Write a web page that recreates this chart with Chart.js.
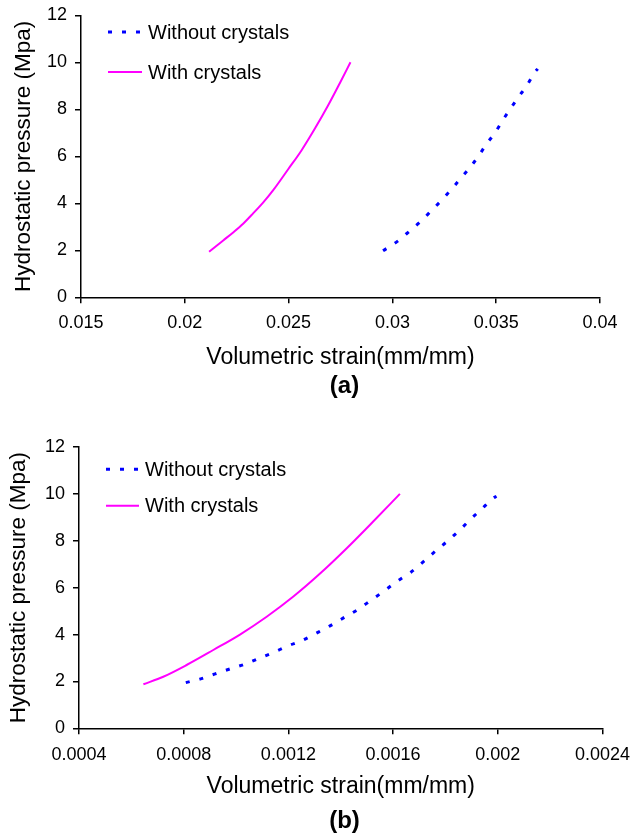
<!DOCTYPE html>
<html>
<head>
<meta charset="utf-8">
<script src="https://cdn.jsdelivr.net/npm/chart.js@4/dist/chart.umd.min.js"></script>
<style>
  html, body { margin: 0; padding: 0; background: #fff; }
  body { width: 630px; height: 839px; position: relative; overflow: hidden;
         font-family: "Liberation Sans", Arial, sans-serif; }
  .panel { position: absolute; left: 0; width: 630px; }
  .caption { position: absolute; left: 300px; width: 89px; text-align: center;
             font-weight: bold; font-size: 24px; line-height: 28px; color: #000; }
</style>
</head>
<body>
<div class="panel" style="top:0;height:400px"><canvas id="chartA" width="630" height="400"></canvas></div>
<div class="caption" style="top:371px">(a)</div>
<div class="panel" style="top:420px;height:419px"><canvas id="chartB" width="630" height="419"></canvas></div>
<div class="caption" style="top:806px">(b)</div>

<script>
// Panel (a): volumetric strain vs. hydrostatic pressure
const aStrainWithout   = [0.02955, 0.03024, 0.03083, 0.03135, 0.03188, 0.03241, 0.03289, 0.03329, 0.03377,
                          0.03420, 0.03452, 0.03496, 0.03532, 0.03564, 0.03609, 0.03649, 0.03688, 0.03700];
const aPressureWithout = [1.98, 2.38, 2.82, 3.22, 3.69, 4.17, 4.64, 5.06, 5.56,
                          6.08, 6.51, 7.02, 7.54, 7.97, 8.54, 9.03, 9.60, 9.72];
const aStrainWith      = [0.02117, 0.02185, 0.02233, 0.02281, 0.02329, 0.02377, 0.02425,
                          0.02498, 0.02562, 0.02626, 0.02690, 0.02746, 0.02798];
const aPressureWith    = [1.94, 2.42, 2.76, 3.13, 3.57, 4.03, 4.55,
                          5.45, 6.25, 7.17, 8.16, 9.10, 10.0];
const aStrainTicks     = [0.015, 0.02, 0.025, 0.03, 0.035, 0.04];

// Panel (b)
const bStrainWithout   = [0.000808, 0.000862, 0.000920, 0.000973, 0.001032, 0.001089, 0.001142, 0.001197,
                          0.001251, 0.001305, 0.001359, 0.001412, 0.001463, 0.001514, 0.001566, 0.001614,
                          0.001668, 0.001716, 0.001760, 0.001805, 0.001852, 0.001896, 0.001938, 0.001983, 0.001995];
const bPressureWithout = [1.95, 2.10, 2.32, 2.52, 2.73, 2.99, 3.23, 3.51,
                          3.74, 4.05, 4.37, 4.72, 5.05, 5.45, 5.86, 6.26,
                          6.66, 7.11, 7.54, 7.96, 8.43, 8.92, 9.35, 9.82, 9.90];
const bStrainWith      = [0.000646, 0.000722, 0.000811, 0.000913, 0.001015, 0.001117, 0.001219, 0.001321,
                          0.001423, 0.001524, 0.001626];
const bPressureWith    = [1.88, 2.20, 2.70, 3.34, 4.00, 4.76, 5.62, 6.60, 7.68, 8.82, 10.0];
const bStrainTicks     = [0.0004, 0.0008, 0.0012, 0.0016, 0.002, 0.0024];

const pressureTicks    = [0, 2, 4, 6, 8, 10, 12];
const seriesNames      = ['Without crystals', 'With crystals'];
const xAxisTitle       = 'Volumetric strain(mm/mm)';
const yAxisTitle       = 'Hydrostatic pressure (Mpa)';

const FONT = '"Liberation Sans", Arial, Helvetica, sans-serif';

function points(xs, ys) {
  return xs.map((x, i) => ({ x: x, y: ys[i] }));
}

// Legend drawn inside the plot area, line sample followed by the series name
const insideLegend = {
  id: 'insideLegend',
  afterDatasetsDraw(chart, args, opts) {
    const ctx = chart.ctx;
    ctx.save();
    ctx.font = '20px ' + FONT;
    ctx.textBaseline = 'middle';
    ctx.textAlign = 'left';
    chart.data.datasets.forEach((ds, i) => {
      const y = opts.top + i * opts.gap;
      ctx.strokeStyle = ds.borderColor;
      ctx.lineWidth = ds.borderWidth;
      ctx.setLineDash(ds.borderDash || []);
      ctx.beginPath();
      ctx.moveTo(opts.x, y);
      ctx.lineTo(opts.x + opts.sample, y);
      ctx.stroke();
      ctx.setLineDash([]);
      ctx.fillStyle = '#000';
      ctx.fillText(ds.label, opts.x + opts.sample + opts.textGap, y + 1);
    });
    ctx.restore();
  }
};

function makeChart(id, cfg) {
  return new Chart(document.getElementById(id), {
    type: 'line',
    data: {
      datasets: [
        { label: seriesNames[0], data: points(cfg.withoutX, cfg.withoutY),
          borderColor: '#0000ff', borderWidth: 3, borderDash: [4, 10],
          pointRadius: 0, fill: false, cubicInterpolationMode: 'monotone' },
        { label: seriesNames[1], data: points(cfg.withX, cfg.withY),
          borderColor: '#ff00ff', borderWidth: 2,
          pointRadius: 0, fill: false, cubicInterpolationMode: 'monotone' }
      ]
    },
    options: {
      responsive: false,
      animation: false,
      devicePixelRatio: 1,
      layout: { padding: cfg.padding },
      plugins: {
        legend: { display: false },
        tooltip: { enabled: false },
        insideLegend: cfg.legend
      },
      scales: {
        x: {
          type: 'linear',
          min: cfg.xTicks[0],
          max: cfg.xTicks[cfg.xTicks.length - 1],
          afterBuildTicks: s => { s.ticks = cfg.xTicks.map(v => ({ value: v })); },
          afterFit: s => { s.height = cfg.xHeight; s.paddingLeft = 0; s.paddingRight = 0; },
          grid: { drawOnChartArea: false, tickLength: 6, color: '#000', lineWidth: 1.5 },
          border: { color: '#000', width: 1.5 },
          ticks: { color: '#000', font: { size: 18, family: FONT }, padding: cfg.xTickPad,
                   maxRotation: 0, autoSkip: false, callback: v => String(v) },
          title: { display: true, text: xAxisTitle, color: '#000',
                   font: { size: 23, family: FONT }, padding: { top: 0, bottom: cfg.xTitlePad } }
        },
        y: {
          type: 'linear',
          min: 0,
          max: 12,
          afterBuildTicks: s => { s.ticks = pressureTicks.map(v => ({ value: v })); },
          afterFit: s => { s.width = cfg.yWidth; s.paddingTop = 0; s.paddingBottom = 0; },
          grid: { drawOnChartArea: false, tickLength: 6, color: '#000', lineWidth: 1.5 },
          border: { color: '#000', width: 1.5 },
          ticks: { color: '#000', font: { size: 18, family: FONT }, padding: cfg.yTickPad,
                   autoSkip: false, callback: v => String(v) },
          title: { display: true, text: yAxisTitle, color: '#000',
                   font: { size: 22.5, family: FONT }, padding: { top: cfg.yTitlePad, bottom: 0 } }
        }
      }
    },
    plugins: [insideLegend]
  });
}

makeChart('chartA', {
  withoutX: aStrainWithout, withoutY: aPressureWithout,
  withX: aStrainWith, withY: aPressureWith,
  xTicks: aStrainTicks,
  padding: { left: 0, top: 15.3, right: 30, bottom: 27.7 },
  xHeight: 75, yWidth: 81,
  xTickPad: 9, xTitlePad: 1, yTickPad: 8, yTitlePad: 10.5,
  legend: { x: 108, top: 32, gap: 40, sample: 34, textGap: 6 }
});

makeChart('chartB', {
  withoutX: bStrainWithout, withoutY: bPressureWithout,
  withX: bStrainWith, withY: bPressureWith,
  xTicks: bStrainTicks,
  padding: { left: 0, top: 27, right: 27.5, bottom: 35.7 },
  xHeight: 75, yWidth: 79,
  xTickPad: 10, xTitlePad: 3, yTickPad: 8, yTitlePad: 5,
  legend: { x: 106, top: 49.3, gap: 36.4, sample: 33, textGap: 6 }
});
</script>
</body>
</html>
